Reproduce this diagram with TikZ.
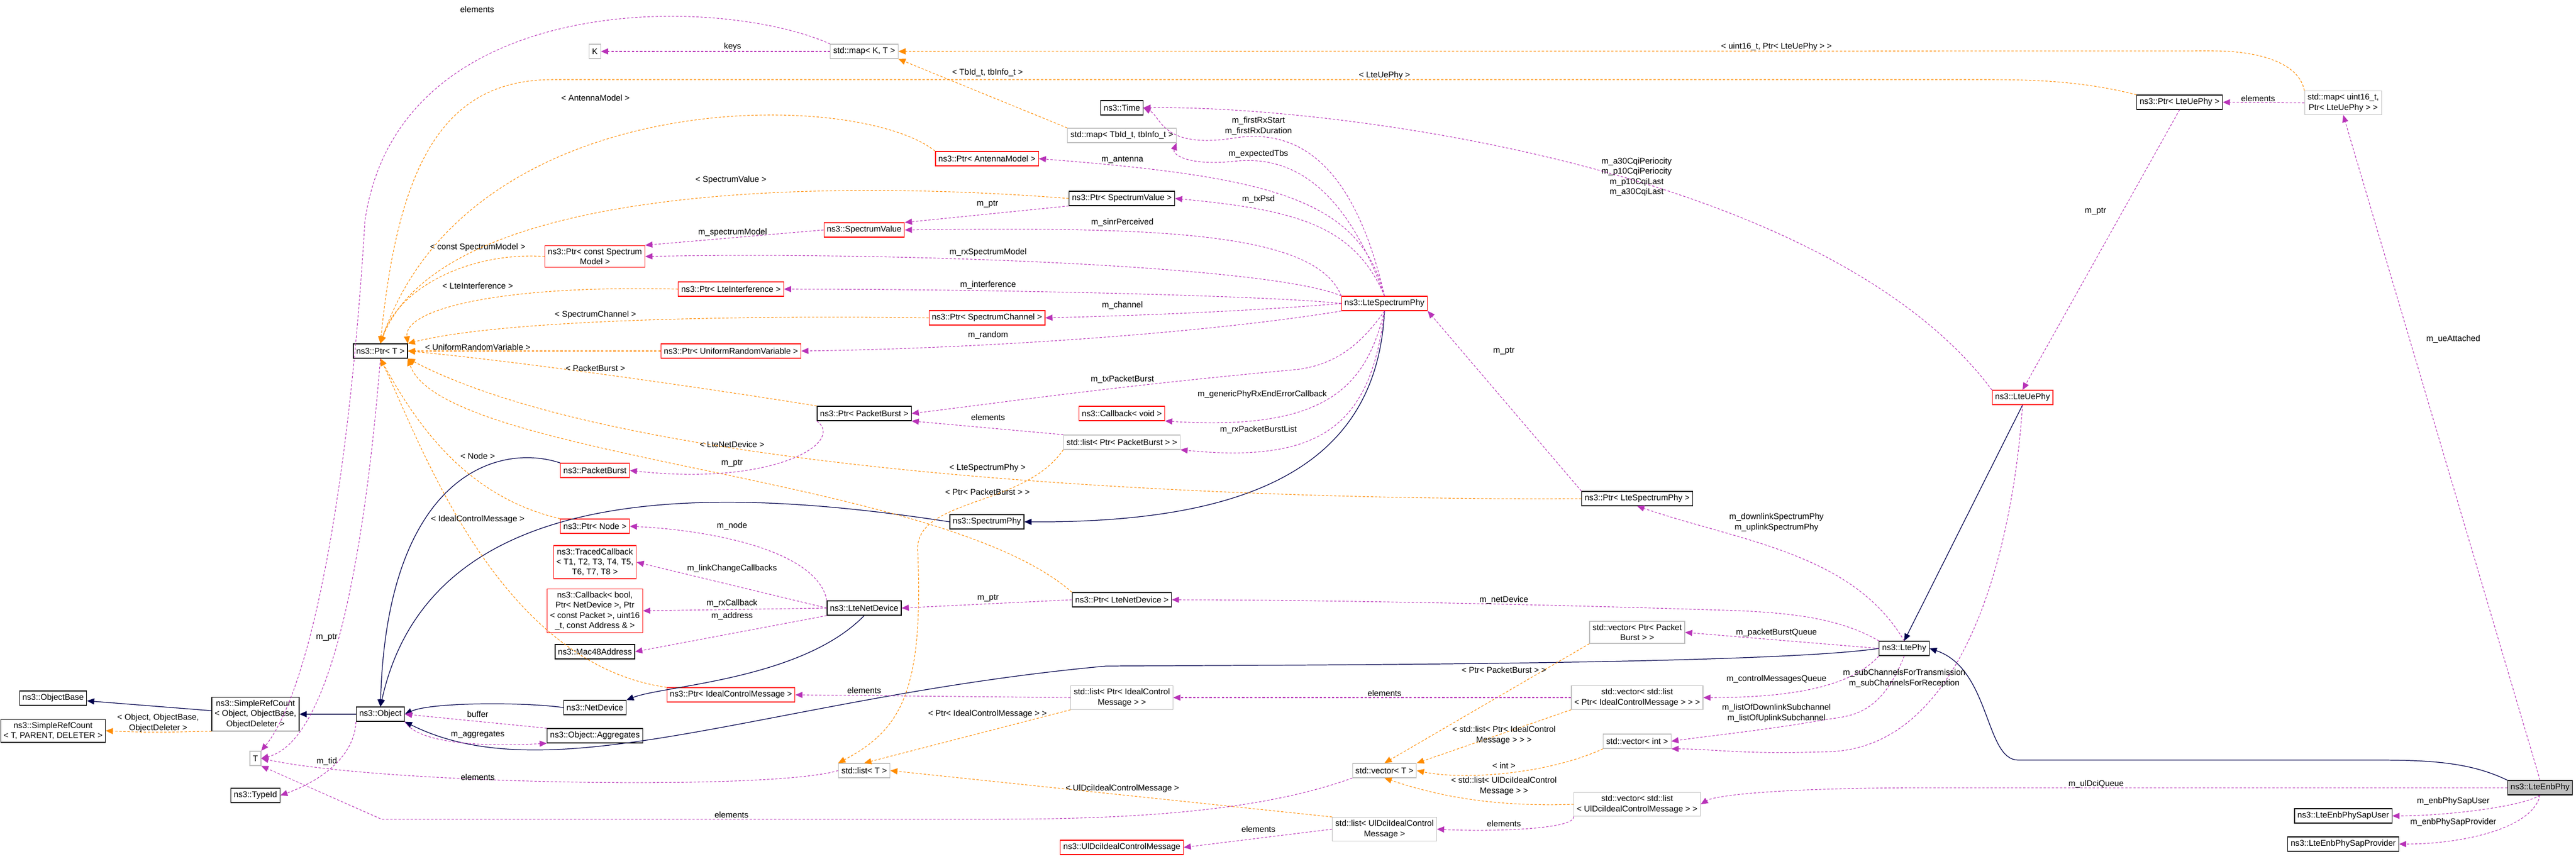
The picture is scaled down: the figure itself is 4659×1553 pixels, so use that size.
\documentclass[tikz,border=0pt]{standalone}
\usepackage{fontspec}
\newfontfamily\doxfont{Liberation Sans}
\usetikzlibrary{arrows.meta}
\tikzset{
	cls/.style = {
		draw = black,
		line width = 0.35pt,
		fill = white,
		font = \doxfont\fontsize{4.3}{5.2}\selectfont,
		inner sep = 1.5pt,
		minimum height = 0.26cm,
		align = center,
	},
	undoc/.style = {cls, draw = red},
	tmpl/.style = {cls, draw = black!25},
	self/.style = {cls, fill = black!25},
	lbl/.style = {
		font = \doxfont\fontsize{4.3}{5.2}\selectfont,
		inner sep = 0pt,
		align = center,
	},
	comp/.style = {
		draw = violet!70!magenta!80!white,
		line width = 0.3pt,
		dash pattern = on 1.2pt off 0.9pt,
		-{Triangle[length = 1.3mm, width = 1.1mm]},
	},
	inst/.style = {comp, draw = orange!90!yellow},
	inherit/.style = {
		draw = blue!30!black,
		line width = 0.35pt,
		-{Triangle[length = 1.3mm, width = 1.1mm]},
	},
}
\begin{document}
\begin{tikzpicture}[x = 0.01cm, y = -0.01cm]
	\useasboundingbox (0, 0) rectangle (4659, 1553);
	% classes
	\node[tmpl] (K) at (1076, 93) {K};
	\node[tmpl] (mapKT) at (1563, 93) {std::map< K, T >};
	\node[cls] (PtrT) at (688, 635) {ns3::Ptr< T >};
	\node[undoc] (PtrSpecModel) at (1076, 464) {ns3::Ptr< const Spectrum\\Model >};
	\node[undoc] (PtrInterf) at (1322, 523) {ns3::Ptr< LteInterference >};
	\node[undoc] (PtrRandom) at (1322, 635) {ns3::Ptr< UniformRandomVariable >};
	\node[cls] (Time) at (2029, 195) {ns3::Time};
	\node[tmpl] (mapTb) at (2029, 245) {std::map< TbId\_t, tbInfo\_t >};
	\node[undoc] (PtrAntenna) at (1785, 287) {ns3::Ptr< AntennaModel >};
	\node[cls] (PtrSpecValue) at (2029, 359) {ns3::Ptr< SpectrumValue >};
	\node[undoc] (SpecValue) at (1563, 416) {ns3::SpectrumValue};
	\node[undoc] (PtrChannel) at (1785, 575) {ns3::Ptr< SpectrumChannel >};
	\node[undoc] (LteSpecPhy) at (2504, 549) {ns3::LteSpectrumPhy};
	\node[cls] (PtrPB) at (1563, 748) {ns3::Ptr< PacketBurst >};
	\node[undoc] (CbVoid) at (2029, 748) {ns3::Callback< void >};
	\node[tmpl] (listPtrPB) at (2029, 800) {std::list< Ptr< PacketBurst > >};
	\node[undoc] (PB) at (1076, 851) {ns3::PacketBurst};
	\node[cls] (SpecPhy) at (1785, 944) {ns3::SpectrumPhy};
	\node[undoc] (PtrNode) at (1076, 952) {ns3::Ptr< Node >};
	\node[undoc] (Traced) at (1076, 1017) {ns3::TracedCallback\\< T1, T2, T3, T4, T5,\\T6, T7, T8 >};
	\node[undoc] (CbBool) at (1076, 1105) {ns3::Callback< bool,\\Ptr< NetDevice >, Ptr\\< const Packet >, uint16\\\_t, const Address \& >};
	\node[cls] (Mac) at (1076, 1179) {ns3::Mac48Address};
	\node[cls] (LteNetDev) at (1563, 1100) {ns3::LteNetDevice};
	\node[cls] (PtrLteNetDev) at (2029, 1085) {ns3::Ptr< LteNetDevice >};
	\node[cls] (NetDev) at (1076, 1280) {ns3::NetDevice};
	\node[undoc] (PtrIdeal) at (1322, 1257) {ns3::Ptr< IdealControlMessage >};
	\node[cls] (Object) at (688, 1292) {ns3::Object};
	\node[cls] (Aggr) at (1076, 1331) {ns3::Object::Aggregates};
	\node[cls] (SRCObj) at (462, 1292) {ns3::SimpleRefCount\\< Object, ObjectBase,\\ObjectDeleter >};
	\node[cls] (ObjBase) at (96, 1263) {ns3::ObjectBase};
	\node[cls] (SRC) at (96, 1322) {ns3::SimpleRefCount\\< T, PARENT, DELETER >};
	\node[tmpl] (T) at (462, 1372) {T};
	\node[cls] (TypeId) at (462, 1439) {ns3::TypeId};
	\node[tmpl] (listPtrIdeal) at (2029, 1262) {std::list< Ptr< IdealControl\\Message > >};
	\node[tmpl] (listT) at (1563, 1394) {std::list< T >};
	\node[tmpl] (vecT) at (2504, 1394) {std::vector< T >};
	\node[tmpl] (listUlDci) at (2504, 1500) {std::list< UlDciIdealControl\\Message >};
	\node[undoc] (UlDci) at (2029, 1533) {ns3::UlDciIdealControlMessage};
	\node[tmpl] (mapUe) at (4238, 186) {std::map< uint16\_t,\\Ptr< LteUePhy > >};
	\node[cls] (PtrUePhy) at (3942, 185) {ns3::Ptr< LteUePhy >};
	\node[undoc] (UePhy) at (3658, 719) {ns3::LteUePhy};
	\node[cls] (PtrLteSpecPhy) at (2961, 902) {ns3::Ptr< LteSpectrumPhy >};
	\node[tmpl] (vecPtrPB) at (2961, 1144) {std::vector< Ptr< Packet\\Burst > >};
	\node[cls] (LtePhy) at (3444, 1173) {ns3::LtePhy};
	\node[tmpl] (vecListIdeal) at (2961, 1262) {std::vector< std::list\\< Ptr< IdealControlMessage > > >};
	\node[tmpl] (vecInt) at (2961, 1341) {std::vector< int >};
	\node[tmpl] (vecListUlDci) at (2961, 1455) {std::vector< std::list\\< UlDciIdealControlMessage > >};
	\node[self] (EnbPhy) at (4594, 1425) {ns3::LteEnbPhy};
	\node[cls] (SapUser) at (4238, 1476) {ns3::LteEnbPhySapUser};
	\node[cls] (SapProv) at (4238, 1527) {ns3::LteEnbPhySapProvider};
	% inheritance
	\draw[inherit] (SRCObj) -- (ObjBase);
	\draw[inherit] (Object) -- (SRCObj);
	\draw[inherit] (PB.north west) .. controls (900, 800) and (700, 860) .. (Object.north);
	\draw[inherit] (SpecPhy.west) .. controls (1300, 880) and (780, 860) .. (Object.north);
	\draw[inherit] (NetDev.west) .. controls (950, 1270) and (780, 1270) .. (Object.east);
	\draw[inherit] (LteNetDev.south) .. controls (1450, 1230) and (1200, 1240) .. (NetDev.north east);
	\draw[inherit] (LtePhy.west) .. controls (3200, 1203) and (2300, 1203) .. (2000, 1205) .. controls (1400, 1260) and (1000, 1440) .. (Object.south east);
	\draw[inherit] (LteSpecPhy.south) .. controls (2490, 850) and (2250, 946) .. (SpecPhy.east);
	\draw[inherit] (UePhy.south) -- (LtePhy.north);
	\draw[inherit] (EnbPhy.north west) .. controls (4470, 1380) and (4400, 1375) .. (4300, 1375) -- (3650, 1375) .. controls (3590, 1375) and (3600, 1210) .. (LtePhy.east);
	% template instances
	\draw[inst] (286, 1308) node[lbl] {< Object, ObjectBase,\\ObjectDeleter >} (SRCObj.south west) .. controls (360, 1322) and (300, 1327) .. (SRC.east);
	\draw[inst] (864, 448) node[lbl] {< const SpectrumModel >} (PtrSpecModel.west) .. controls (850, 455) and (720, 520) .. (PtrT.north);
	\draw[inst] (864, 517) node[lbl] {< LteInterference >} (PtrInterf.west) .. controls (900, 515) and (730, 560) .. (PtrT.north east);
	\draw[inst] (1077, 570) node[lbl] {< SpectrumChannel >} (PtrChannel.west) .. controls (1300, 570) and (900, 580) .. (PtrT.north east);
	\draw[inst] (864, 628) node[lbl] {< UniformRandomVariable >} (PtrRandom.west) -- (PtrT.east);
	\draw[inst] (1077, 666) node[lbl] {< PacketBurst >} (PtrPB.north west) .. controls (1200, 690) and (900, 650) .. (PtrT.east);
	\draw[inst] (1322, 326) node[lbl] {< SpectrumValue >} (PtrSpecValue.west) .. controls (1500, 325) and (800, 330) .. (PtrT.north);
	\draw[inst] (1077, 177) node[lbl] {< AntennaModel >} (PtrAntenna.north west) .. controls (1550, 160) and (850, 150) .. (PtrT.north);
	\draw[inst] (2504, 137) node[lbl] {< LteUePhy >} (PtrUePhy.north west) .. controls (3780, 150) and (3700, 144) .. (3600, 144) -- (1000, 144) .. controls (800, 144) and (720, 300) .. (PtrT.north);
	\draw[inst] (1786, 132) node[lbl] {< TbId\_t, tbInfo\_t >} (mapTb.north west) -- (mapKT.south east);
	\draw[inst] (3213, 85) node[lbl] {< uint16\_t, Ptr< LteUePhy > >} (mapUe.north west) .. controls (4160, 120) and (4100, 92) .. (4000, 92) -- (mapKT.east);
	\draw[inst] (1786, 847) node[lbl] {< LteSpectrumPhy >} (PtrLteSpecPhy.west) .. controls (2500, 905) and (1200, 890) .. (PtrT.south east);
	\draw[inst] (1324, 804) node[lbl] {< LteNetDevice >} (PtrLteNetDev.north west) .. controls (1700, 860) and (800, 830) .. (PtrT.south east);
	\draw[inst] (864, 825) node[lbl] {< Node >} (PtrNode.north west) .. controls (850, 900) and (760, 780) .. (PtrT.south);
	\draw[inst] (864, 940) node[lbl] {< IdealControlMessage >} (PtrIdeal.north west) .. controls (900, 1200) and (760, 800) .. (PtrT.south);
	\draw[inst] (1786, 890) node[lbl] {< Ptr< PacketBurst > >} (listPtrPB.south west) .. controls (1850, 920) and (1650, 900) .. (1660, 1000) .. controls (1670, 1250) and (1630, 1320) .. (listT.north west);
	\draw[inst] (1786, 1292) node[lbl] {< Ptr< IdealControlMessage > >} (listPtrIdeal.south west) -- (listT.north);
	\draw[inst] (2030, 1427) node[lbl] {< UlDciIdealControlMessage >} (listUlDci.north west) -- (listT.east);
	\draw[inst] (2720, 1212) node[lbl] {< Ptr< PacketBurst > >} (vecPtrPB.south west) -- (vecT.north);
	\draw[inst] (2720, 1330) node[lbl] {< std::list< Ptr< IdealControl\\Message > > >} (vecListIdeal.south west) -- (vecT.north east);
	\draw[inst] (2720, 1385) node[lbl] {< int >} (vecInt.south west) .. controls (2800, 1400) and (2650, 1412) .. (vecT.east);
	\draw[inst] (2720, 1422) node[lbl] {< std::list< UlDciIdealControl\\Message > >} (vecListUlDci.west) .. controls (2700, 1460) and (2600, 1440) .. (vecT.south);
	% members
	\draw[comp] (863, 17) node[lbl] {elements} (mapKT.north west) .. controls (1300, -10) and (720, -20) .. (660, 400) .. controls (630, 900) and (560, 1250) .. (T.north east);
	\draw[comp] (1325, 85) node[lbl] {keys} (mapKT) -- (K);
	\draw[comp] (2276, 228) node[lbl] {m\_firstRxStart\\m\_firstRxDuration} (LteSpecPhy.north) .. controls (2450, 300) and (2350, 230) .. (2230, 250) .. controls (2100, 270) and (2100, 210) .. (Time.east);
	\draw[comp] (2276, 279) node[lbl] {m\_expectedTbs} (LteSpecPhy.north) .. controls (2430, 330) and (2330, 280) .. (2230, 292) .. controls (2150, 300) and (2120, 280) .. (mapTb.south east);
	\draw[comp] (2030, 289) node[lbl] {m\_antenna} (LteSpecPhy.north) .. controls (2460, 360) and (2300, 320) .. (PtrAntenna.east);
	\draw[comp] (2276, 361) node[lbl] {m\_txPsd} (LteSpecPhy.north) .. controls (2450, 410) and (2350, 380) .. (PtrSpecValue.east);
	\draw[comp] (1786, 369) node[lbl] {m\_ptr} (PtrSpecValue.south west) -- (SpecValue.north east);
	\draw[comp] (2030, 403) node[lbl] {m\_sinrPerceived} (LteSpecPhy.north west) .. controls (2380, 420) and (2100, 410) .. (SpecValue.east);
	\draw[comp] (1787, 457) node[lbl] {m\_rxSpectrumModel} (LteSpecPhy.north west) .. controls (2300, 480) and (1600, 455) .. (PtrSpecModel.east);
	\draw[comp] (1325, 421) node[lbl] {m\_spectrumModel} (SpecValue.west) -- (PtrSpecModel.north east);
	\draw[comp] (1787, 516) node[lbl] {m\_interference} (LteSpecPhy.west) .. controls (2300, 535) and (1800, 523) .. (PtrInterf.east);
	\draw[comp] (2030, 553) node[lbl] {m\_channel} (LteSpecPhy.west) .. controls (2300, 560) and (2100, 570) .. (PtrChannel.east);
	\draw[comp] (1787, 607) node[lbl] {m\_random} (LteSpecPhy.south west) .. controls (2200, 600) and (1800, 630) .. (PtrRandom.east);
	\draw[comp] (2030, 687) node[lbl] {m\_txPacketBurst} (LteSpecPhy.south) .. controls (2450, 640) and (2400, 660) .. (2350, 668) .. controls (2000, 700) and (1800, 730) .. (PtrPB.east);
	\draw[comp] (2283, 714) node[lbl] {m\_genericPhyRxEndErrorCallback} (LteSpecPhy.south) .. controls (2470, 700) and (2400, 780) .. (CbVoid.south east);
	\draw[comp] (2276, 778) node[lbl] {m\_rxPacketBurstList} (LteSpecPhy.south) .. controls (2480, 760) and (2400, 840) .. (listPtrPB.south east);
	\draw[comp] (1787, 755) node[lbl] {elements} (listPtrPB.north west) -- (PtrPB.south east);
	\draw[comp] (1324, 838) node[lbl] {m\_ptr} (PtrPB.south west) .. controls (1530, 800) and (1400, 880) .. (PB.east);
	\draw[comp] (2720, 635) node[lbl] {m\_ptr} (PtrLteSpecPhy.north west) -- (LteSpecPhy.south east);
	\draw[comp] (3790, 382) node[lbl] {m\_ptr} (PtrUePhy.south) -- (UePhy.north);
	\draw[comp] (4084, 178) node[lbl] {elements} (mapUe.west) -- (PtrUePhy.east);
	\draw[comp] (4437, 614) node[lbl] {m\_ueAttached} (EnbPhy.north) -- (mapUe.south);
	\draw[comp] (2960, 320) node[lbl] {m\_a30CqiPeriocity\\m\_p10CqiPeriocity\\m\_p10CqiLast\\m\_a30CqiLast} (UePhy.north west) .. controls (3300, 300) and (2400, 190) .. (Time.east);
	\draw[comp] (3213, 945) node[lbl] {m\_downlinkSpectrumPhy\\m\_uplinkSpectrumPhy} (LtePhy.north) .. controls (3350, 1000) and (3150, 980) .. (PtrLteSpecPhy.south);
	\draw[comp] (3213, 1145) node[lbl] {m\_packetBurstQueue} (LtePhy.west) -- (vecPtrPB.east);
	\draw[comp] (2720, 1085) node[lbl] {m\_netDevice} (LtePhy.north west) .. controls (3330, 1120) and (3250, 1110) .. (3150, 1105) .. controls (2700, 1090) and (2300, 1085) .. (PtrLteNetDev.east);
	\draw[comp] (1787, 1082) node[lbl] {m\_ptr} (PtrLteNetDev.west) -- (LteNetDev.east);
	\draw[comp] (1324, 951) node[lbl] {m\_node} (LteNetDev.north west) .. controls (1480, 1000) and (1300, 960) .. (PtrNode.east);
	\draw[comp] (1324, 1029) node[lbl] {m\_linkChangeCallbacks} (LteNetDev.west) -- (Traced.east);
	\draw[comp] (1324, 1091) node[lbl] {m\_rxCallback} (LteNetDev.west) -- (CbBool.east);
	\draw[comp] (1324, 1114) node[lbl] {m\_address} (LteNetDev.south west) -- (Mac.east);
	\draw[comp] (3213, 1229) node[lbl] {m\_controlMessagesQueue} (LtePhy.south west) .. controls (3350, 1240) and (3250, 1262) .. (vecListIdeal.east);
	\draw[comp] (3213, 1290) node[lbl] {m\_listOfDownlinkSubchannel\\m\_listOfUplinkSubchannel} (LtePhy.south) .. controls (3400, 1300) and (3340, 1295) .. (3300, 1302) .. controls (3200, 1320) and (3100, 1330) .. (vecInt.east);
	\draw[comp] (3444, 1227) node[lbl] {m\_subChannelsForTransmission\\m\_subChannelsForReception} (UePhy.south) .. controls (3640, 1000) and (3550, 1360) .. (3300, 1360) .. controls (3150, 1365) and (3100, 1355) .. (vecInt.south east);
	\draw[comp] (2504, 1254) node[lbl] {elements} (vecListIdeal.west) -- (listPtrIdeal.east);
	\draw[comp] (1563, 1249) node[lbl] {elements} (listPtrIdeal.west) -- (PtrIdeal.east);
	\draw[comp] (3791, 1418) node[lbl] {m\_ulDciQueue} (EnbPhy.west) -- (3500, 1425) .. controls (3200, 1425) and (3100, 1440) .. (vecListUlDci.east);
	\draw[comp] (2720, 1490) node[lbl] {elements} (vecListUlDci.south west) .. controls (2850, 1500) and (2700, 1505) .. (listUlDci.east);
	\draw[comp] (2276, 1500) node[lbl] {elements} (listUlDci.west) -- (UlDci.east);
	\draw[comp] (4437, 1450) node[lbl] {m\_enbPhySapUser} (EnbPhy.south) .. controls (4560, 1460) and (4420, 1476) .. (SapUser.east);
	\draw[comp] (4437, 1488) node[lbl] {m\_enbPhySapProvider} (EnbPhy.south) .. controls (4580, 1500) and (4450, 1527) .. (SapProv.east);
	\draw[comp] (864, 1292) node[lbl] {buffer} (Aggr.north west) -- (Object.east);
	\draw[comp] (864, 1329) node[lbl] {m\_aggregates} (Object.south east) .. controls (760, 1350) and (900, 1350) .. (Aggr.south west);
	\draw[comp] (591, 1377) node[lbl] {m\_tid} (Object.south west) .. controls (640, 1380) and (560, 1420) .. (TypeId.east);
	\draw[comp] (591, 1153) node[lbl] {m\_ptr} (PtrT.south) .. controls (660, 1000) and (600, 1340) .. (T.east);
	\draw[comp] (864, 1406) node[lbl] {elements} (listT.west) .. controls (1400, 1430) and (700, 1420) .. (T.east);
	\draw[comp] (1323, 1474) node[lbl] {elements} (vecT.south west) .. controls (2300, 1460) and (2100, 1482) .. (1800, 1482) -- (690, 1482) -- (T.south east);
\end{tikzpicture}
\end{document}
